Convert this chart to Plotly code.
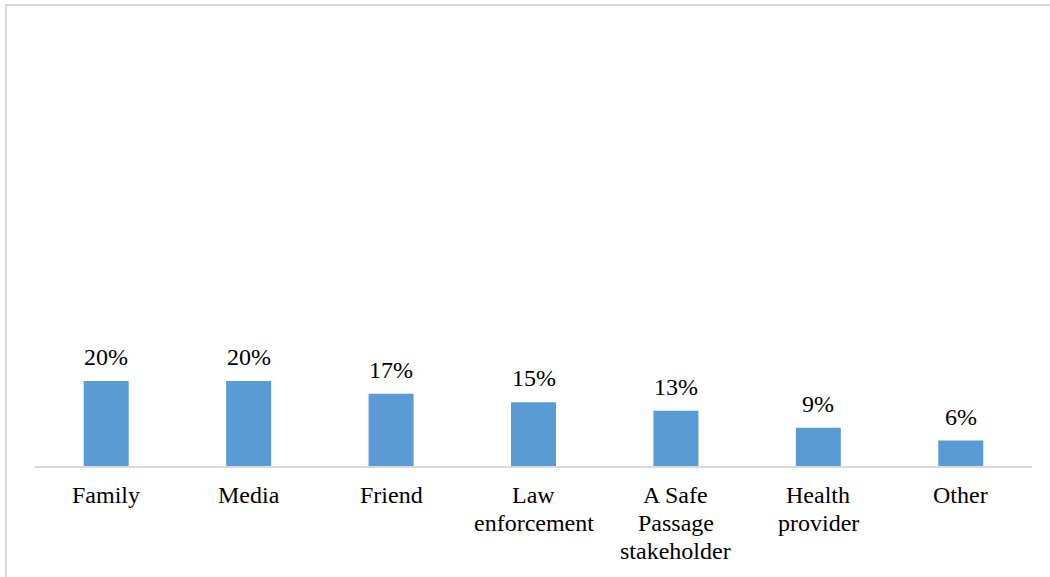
import plotly.graph_objects as go

# Share of respondents by source of information
categories = ["Family", "Media", "Friend", "Law<br>enforcement",
              "A Safe<br>Passage<br>stakeholder", "Health<br>provider", "Other"]
percentages = [20, 20, 17, 15, 13, 9, 6]

W, H = 1050, 577
ML, MR, MT, MB = 35, 18, 41, 111
plot_w = W - ML - MR
plot_h = H - MT - MB

BAR_COLOR = "#5B9BD5"
FONT = "Liberation Serif"
FONT_SIZE = 24
LINE_STEP = 28

fig = go.Figure()
fig.add_trace(go.Bar(
    x=categories,
    y=percentages,
    marker=dict(color=BAR_COLOR, line=dict(width=0)),
    width=0.316,
    hoverinfo="skip",
))

# value labels above each bar
for c, v in zip(categories, percentages):
    fig.add_annotation(
        x=c, y=v, text=f"{v}%", showarrow=False,
        yanchor="middle", yshift=24,
        font=dict(family=FONT, size=FONT_SIZE, color="#000000"),
    )

# category labels under the axis, one annotation per line for tight leading
for c in categories:
    for i, line in enumerate(c.split("<br>")):
        fig.add_annotation(
            x=c, y=0, text=line, showarrow=False,
            yanchor="middle", yshift=-(28.5 + i * LINE_STEP),
            font=dict(family=FONT, size=FONT_SIZE, color="#000000"),
        )

# light grey chart frame
def px_to_paper_x(px):
    return (px - ML) / plot_w

def px_to_paper_y(py):
    return (H - MB - py) / plot_h

fig.add_shape(
    type="rect", xref="paper", yref="paper",
    x0=px_to_paper_x(6), x1=px_to_paper_x(1060),
    y0=px_to_paper_y(590), y1=px_to_paper_y(5),
    line=dict(color="#D9D9D9", width=2), fillcolor="rgba(0,0,0,0)",
    layer="below",
)

fig.update_layout(
    width=W, height=H,
    margin=dict(l=ML, r=MR, t=MT, b=MB),
    paper_bgcolor="white", plot_bgcolor="white",
    showlegend=False,
    bargap=0.684,
    font=dict(family=FONT, size=FONT_SIZE, color="#000000"),
)
fig.update_xaxes(
    showline=True, linecolor="#D9D9D9", linewidth=2,
    ticks="", showgrid=False, zeroline=False, showticklabels=False,
)
fig.update_yaxes(
    range=[0, 100], visible=False, showgrid=False, zeroline=False,
)

fig.write_html("out.html")
